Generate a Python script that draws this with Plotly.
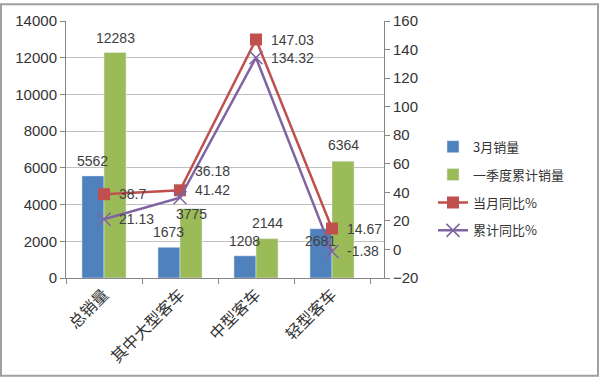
import plotly.graph_objects as go

categories = ["总销量", "其中大型客车", "中型客车", "轻型客车"]
march_sales = [5562, 1673, 1208, 2681]
q1_sales = [12283, 3775, 2144, 6364]
march_yoy = [38.7, 41.42, 147.03, 14.67]
cum_yoy = [21.13, 36.18, 134.32, -1.38]

W, H = 600, 379
L, R, T, B = 66, 384, 18, 278

def px_x(p):
    return (p - L) / (R - L)

def px_y(p):
    return (B - p) / (B - T)

font_main = "Liberation Sans, Arial, sans-serif"
cjk = "Noto Sans CJK SC"
txt_col = "#404040"
lbl_font = dict(size=14, color=txt_col, family=font_main)

fig = go.Figure()
fig.add_trace(go.Bar(
    x=categories, y=march_sales, name="3月销量", marker_color="#4F81BD",
    legendgroup="a"))
fig.add_trace(go.Bar(
    x=categories, y=q1_sales, name="一季度累计销量", marker_color="#9BBB59",
    legendgroup="b"))
fig.add_trace(go.Scatter(
    x=categories, y=march_yoy, name="当月同比%", yaxis="y2", mode="lines+markers",
    line=dict(color="#C0504D", width=2.5),
    marker=dict(symbol="square", size=12, color="#C0504D"),
    legendgroup="c"))
fig.add_trace(go.Scatter(
    x=categories, y=cum_yoy, name="累计同比%", yaxis="y2", mode="lines+markers",
    line=dict(color="#8064A2", width=2.5),
    marker=dict(symbol="x-thin", size=13, line=dict(color="#8064A2", width=1.5)),
    legendgroup="d"))

annotations = []
# bar value labels (Excel-like placement above bars; two were nudged by Excel)
blue_shift = [15, 15, 15, -12]
green_shift = [15, -5, 16, 16]
for c, v, s in zip(categories, march_sales, blue_shift):
    annotations.append(dict(x=c, y=v, xref="x", yref="y", text=str(v), showarrow=False,
                            xshift=-12, yshift=s, font=lbl_font))
for c, v, s in zip(categories, q1_sales, green_shift):
    annotations.append(dict(x=c, y=v, xref="x", yref="y", text=str(v), showarrow=False,
                            xshift=11, yshift=s, font=lbl_font))
# line value labels
for c, v in zip(categories, march_yoy):
    annotations.append(dict(x=c, y=v, xref="x", yref="y2", text=f"{v:g}", showarrow=False,
                            xanchor="left", xshift=13, yshift=0, font=lbl_font))
purple_shift = [0, 27, 0, 0]
for c, v, s in zip(categories, cum_yoy, purple_shift):
    annotations.append(dict(x=c, y=v, xref="x", yref="y2", text=f"{v:g}", showarrow=False,
                            xanchor="left", xshift=13, yshift=s, font=lbl_font))

fig.update_layout(
    width=W, height=H,
    margin=dict(l=L, r=W - R, t=T, b=H - B),
    paper_bgcolor="white", plot_bgcolor="white",
    bargap=0.42, bargroupgap=0,
    font=dict(family=font_main, color=txt_col, size=14),
    annotations=annotations,
    xaxis=dict(type="category", tickangle=-45, ticks="outside", tickson="boundaries",
               ticklen=5, tickcolor="#868686", showline=True, linecolor="#868686",
               tickfont=dict(family=cjk, size=16, color="#333333"), showgrid=False),
    yaxis=dict(range=[0, 14000], dtick=2000, tickformat="d", ticks="outside", ticklen=5,
               tickcolor="#868686", showline=True, linecolor="#868686",
               gridcolor="#C0C0C0", gridwidth=1, zeroline=False,
               tickfont=dict(size=15, color="#333333")),
    yaxis2=dict(range=[-20, 160], dtick=20, overlaying="y", side="right",
                ticks="outside", ticklen=5, tickcolor="#868686", showline=True,
                linecolor="#868686", showgrid=False, zeroline=False,
                tickfont=dict(size=15, color="#333333")),
    legend=dict(x=px_x(433), y=px_y(130), xanchor="left", yanchor="top",
                font=dict(family=cjk, size=13, color="#333333"),
                tracegroupgap=8, bgcolor="rgba(0,0,0,0)"),
    showlegend=True,
)

fig.add_shape(type="rect", xref="paper", yref="paper",
              x0=px_x(1), x1=px_x(598), y0=px_y(377), y1=px_y(1),
              line=dict(color="#A0A0A0", width=2), layer="below")

fig.write_html("out.html", config={"displayModeBar": False},
               post_script="document.body.style.margin='0';document.body.style.overflow='hidden';")
